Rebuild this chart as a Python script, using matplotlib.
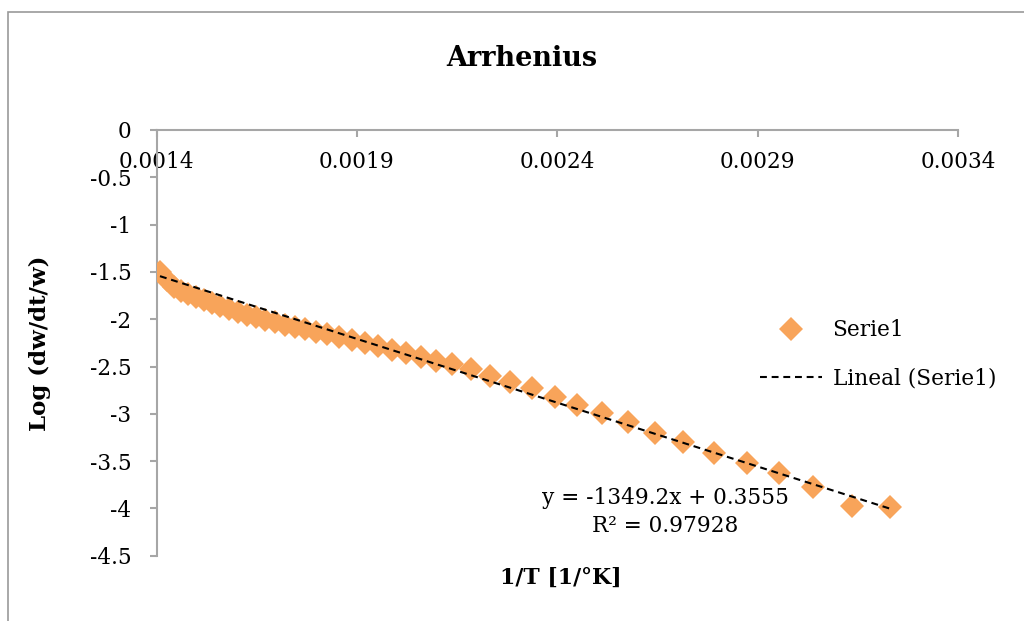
import matplotlib

matplotlib.use("Agg")
import matplotlib.pyplot as plt
from matplotlib.patches import Rectangle

# 1/T values (1/K) and log(dw/dt/w)
inv_t = [
    0.0014087, 0.0014262, 0.0014436, 0.0014611, 0.0014786, 0.0014985,
    0.0015185, 0.0015384, 0.0015584, 0.0015808, 0.0016032, 0.0016257,
    0.0016481, 0.0016706, 0.0016955, 0.0017204, 0.0017454, 0.0017703,
    0.0017978, 0.0018252, 0.0018551, 0.0018875, 0.0019200, 0.0019524,
    0.0019873, 0.0020222, 0.0020596, 0.0020970, 0.0021369, 0.0021843,
    0.0022317, 0.0022816, 0.0023364, 0.0023938, 0.0024486, 0.0025110,
    0.0025758, 0.0026432, 0.0027130, 0.0027903, 0.0028726, 0.0029524,
    0.0030372, 0.0031344, 0.0032292,
]
log_rate = [
    -1.50, -1.59, -1.66, -1.70, -1.73, -1.77,
    -1.80, -1.83, -1.86, -1.89, -1.92, -1.96,
    -1.98, -2.01, -2.03, -2.06, -2.08, -2.10,
    -2.14, -2.16, -2.19, -2.22, -2.25, -2.28,
    -2.33, -2.36, -2.40, -2.44, -2.47, -2.53,
    -2.60, -2.66, -2.73, -2.82, -2.91, -2.99,
    -3.09, -3.20, -3.30, -3.41, -3.52, -3.63,
    -3.77, -3.97, -3.99,
]

# linear trendline reported on the chart
slope = -1349.2
intercept = 0.3555
r_squared = "0.97928"

x_ticks = [0.0014, 0.0019, 0.0024, 0.0029, 0.0034]
x_tick_labels = ["0.0014", "0.0019", "0.0024", "0.0029", "0.0034"]
y_ticks = [0, -0.5, -1, -1.5, -2, -2.5, -3, -3.5, -4, -4.5]
y_tick_labels = ["0", "-0.5", "-1", "-1.5", "-2", "-2.5", "-3", "-3.5", "-4", "-4.5"]

W, H = 1024, 621
ORANGE = "#F8A45A"
GRAY = "#A6A6A6"

plt.rcParams["font.family"] = ["DejaVu Serif"]

fig = plt.figure(figsize=(W / 100, H / 100), dpi=100)
ax = fig.add_axes([156.5 / W, 1 - 555.7 / H, (958 - 156.5) / W, (555.7 - 130) / H])

# chart area border (only left and top are visible in the crop)
fig.add_artist(Rectangle((8 / W, -0.2), 1.2, 1.2 - 12 / H, transform=fig.transFigure,
                         facecolor="none", edgecolor="#9A9A9A", linewidth=1.2))

ax.plot(inv_t, log_rate, linestyle="none", marker="D", markersize=12,
        markerfacecolor=ORANGE, markeredgewidth=0, label="Serie1", zorder=3)

x_fit = [min(inv_t), max(inv_t)]
y_fit = [slope * x + intercept for x in x_fit]
ax.plot(x_fit, y_fit, color="black", linewidth=1.5, dashes=(3.3, 2.3),
        label="Lineal (Serie1)", zorder=4)

ax.set_xlim(0.0014, 0.0034)
ax.set_ylim(-4.5, 0)
ax.set_xticks(x_ticks, x_tick_labels)
ax.set_yticks(y_ticks, y_tick_labels)

for side in ["top", "right"]:
    ax.spines[side].set_visible(False)
ax.spines["bottom"].set_position(("data", 0))
for side in ["bottom", "left"]:
    ax.spines[side].set_color(GRAY)
    ax.spines[side].set_linewidth(1.5)

ax.tick_params(axis="x", direction="out", length=5, width=1.5, color=GRAY,
               labelsize=15.6, pad=10)
ax.tick_params(axis="y", direction="out", length=5, width=1.5, color=GRAY,
               labelsize=15.6, pad=13)

fig.text(522 / W, 1 - 58 / H, "Arrhenius", ha="center", va="center",
         fontsize=19.5, fontweight="bold")
fig.text(40 / W, 1 - 343 / H, "Log (dw/dt/w)", ha="center", va="center",
         rotation=90, fontsize=16.5, fontweight="bold")
fig.text(561 / W, 1 - 578 / H, "1/T [1/°K]", ha="center", va="center",
         fontsize=15.8, fontweight="bold")

fig.text(665 / W, 1 - 512 / H,
         f"y = {slope}x + {intercept}\nR² = {r_squared}",
         ha="center", va="center", multialignment="center",
         fontsize=15.6, linespacing=1.3)

ax.legend(loc="center left", bbox_to_anchor=(760 / W, 1 - 354.5 / H),
          bbox_transform=fig.transFigure, frameon=False, fontsize=15.6,
          numpoints=1, handlelength=2.85, handletextpad=0.5, labelspacing=1.2,
          borderpad=0, borderaxespad=0)

fig.savefig("out.png", dpi=100)
plt.close(fig)
